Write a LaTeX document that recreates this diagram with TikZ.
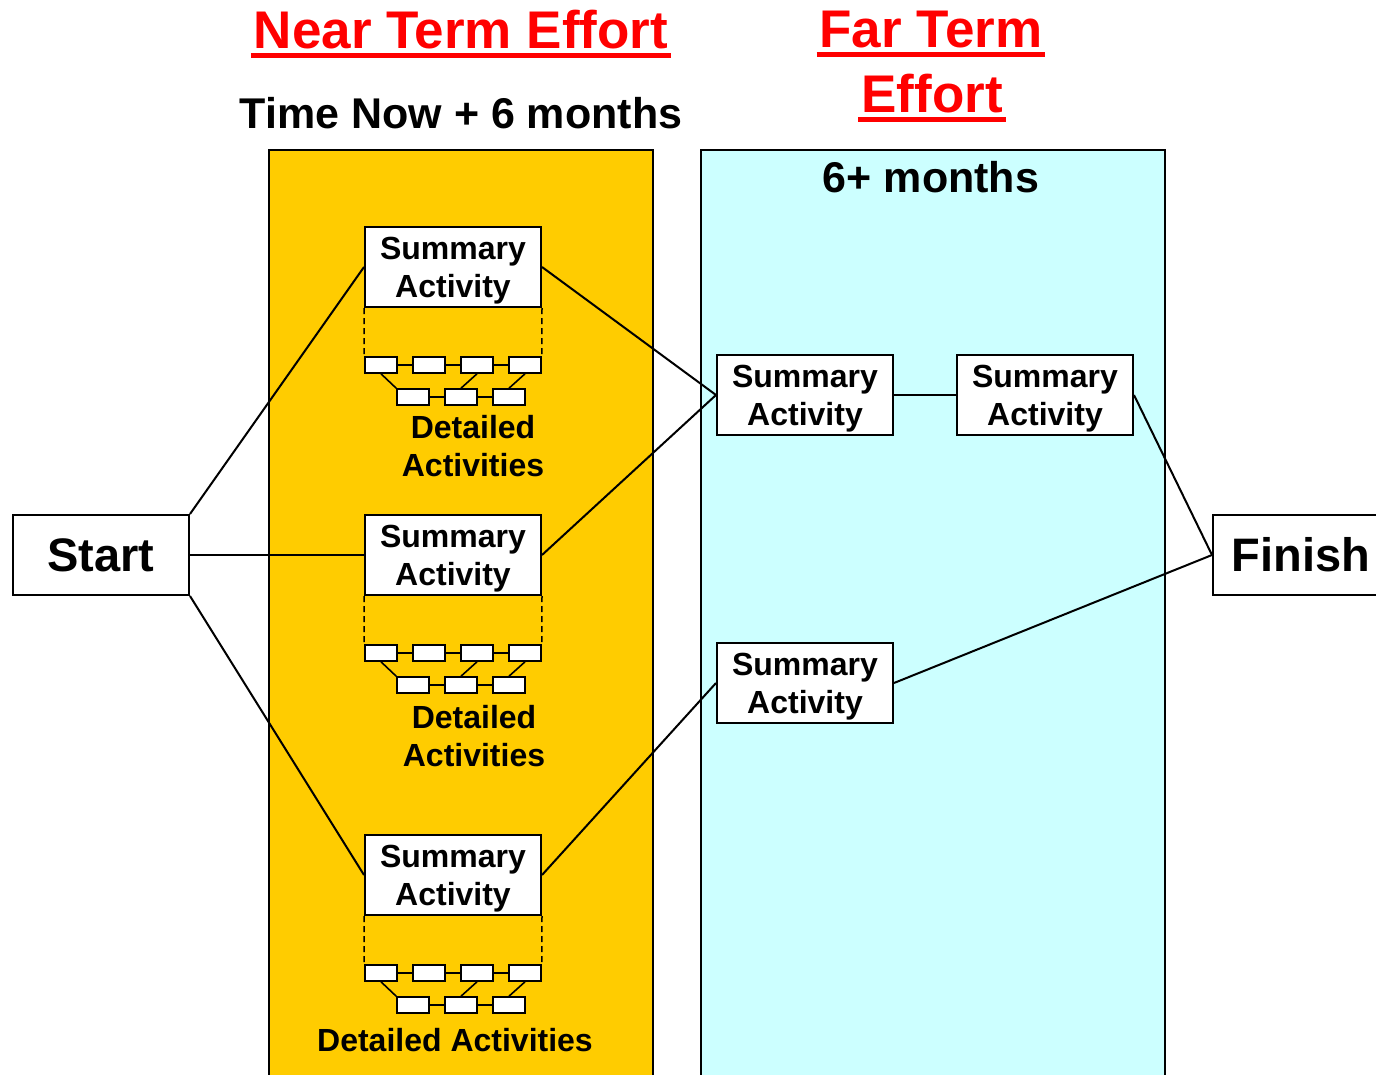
\documentclass[tikz,border=0pt]{standalone}
\usepackage{fontspec}
\setmainfont{Liberation Sans}
\usetikzlibrary{shadows}
\definecolor{nearfill}{RGB}{255,204,0}
\definecolor{farfill}{RGB}{204,255,255}
\definecolor{titlered}{RGB}{255,0,0}
% thick underline drawn in the current colour
\newcommand{\redul}[1]{\setbox0=\hbox{#1}\rlap{\kern-3pt\rule[-10pt]{\dimexpr\wd0+6pt\relax}{5pt}}\box0}
\tikzset{
  panel/.style={draw=black, line width=1.5pt},
  sumbox/.style={draw, fill=white, line width=2pt, minimum width=176pt,
    minimum height=80pt, inner sep=0pt, align=center, text depth=0pt,
    font=\fontsize{32}{38}\selectfont\bfseries},
  endbox/.style={draw, fill=white, line width=2pt, minimum width=176pt,
    minimum height=80pt, inner sep=0pt,
    font=\fontsize{47}{56}\selectfont\bfseries},
  minibox/.style={draw, fill=white, line width=1.6pt, minimum width=32pt,
    minimum height=16pt, inner sep=0pt,
    drop shadow={shadow xshift=1.2pt, shadow yshift=-1.2pt, fill=gray!50, opacity=1}},
  link/.style={line width=2pt},
  minilink/.style={line width=1.6pt},
  dashlink/.style={line width=1.5pt, dash pattern=on 6pt off 4pt},
  detlabel/.style={align=center, inner sep=0pt,
    font=\fontsize{32}{38.5}\selectfont\bfseries},
  title/.style={anchor=base, inner sep=0pt, text=titlered,
    font=\fontsize{53}{65}\selectfont\bfseries},
  subtitle/.style={anchor=base, inner sep=0pt,
    font=\fontsize{43}{50}\selectfont\bfseries},
  detailgrid/.pic={
    \foreach \i/\x in {1/16,2/64,3/112,4/160}
      \node[minibox] (-t\i) at (\x,8) {};
    \foreach \i/\x in {1/48,2/96,3/144}
      \node[minibox] (-b\i) at (\x,40) {};
    \draw[minilink] (-t1) -- (-t2) (-t2) -- (-t3) (-t3) -- (-t4)
      (-b1) -- (-b2) (-b2) -- (-b3)
      (-t1.south) -- (-b1.north west)
      (-t3.south) -- (-b2.north)
      (-t4.south) -- (-b3.north);
  }
}
\begin{document}
\begin{tikzpicture}[x=1pt, y=-1pt]
\useasboundingbox (0,0) rectangle (1376,1074);
\fill[white] (0,0) rectangle (1376,1074);

% the two planning windows
\fill[nearfill] (269,150) rectangle (653,1080);
\draw[panel] (269,1080) -- (269,150) -- (653,150) -- (653,1080);
\fill[farfill] (701,150) rectangle (1165,1080);
\draw[panel] (701,1080) -- (701,150) -- (1165,150) -- (1165,1080);

% headings
\node[title] (near) at (461,48) {\redul{Near Term Effort}};
\node[title] (farterm) at (931,47) {\redul{Far Term}};
\node[title] (fareffort) at (932,112) {\redul{Effort}};
\node[subtitle] (nearspan) at (461,128) {Time Now + 6 months};
\node[subtitle] (farspan) at (931,192) {6+ months};

% end points
\node[endbox] (start) at (101,555) {Start};
\node[endbox] (finish) at (1301,555) {Finish};

% near term summary activities
\node[sumbox] (s1) at (453,267) {Summary\\Activity};
\node[sumbox] (s2) at (453,555) {Summary\\Activity};
\node[sumbox] (s3) at (453,875) {Summary\\Activity};

% far term summary activities
\node[sumbox] (f1) at (805,395) {Summary\\Activity};
\node[sumbox] (f2) at (1045,395) {Summary\\Activity};
\node[sumbox] (f3) at (805,683) {Summary\\Activity};

% detail networks under each near term summary
\pic (g1) at (365,357) {detailgrid};
\pic (g2) at (365,645) {detailgrid};
\pic (g3) at (365,965) {detailgrid};

\foreach \s/\g in {s1/g1, s2/g2, s3/g3} {
  \draw[dashlink] (\s.south west) -- (\g-t1.north west);
  \draw[dashlink] (\s.south east) -- (\g-t4.north east);
}

\node[detlabel] (d1) at (473,446) {Detailed\\Activities};
\node[detlabel] (d2) at (474,736) {Detailed\\Activities};
\node[detlabel] (d3) at (455,1040) {Detailed Activities};

% logic links
\draw[link] (start.north east) -- (s1.west);
\draw[link] (start.east) -- (s2.west);
\draw[link] (start.south east) -- (s3.west);
\draw[link] (s1.east) -- (f1.west);
\draw[link] (s2.east) -- (f1.west);
\draw[link] (s3.east) -- (f3.west);
\draw[link] (f1.east) -- (f2.west);
\draw[link] (f2.east) -- (finish.west);
\draw[link] (f3.east) -- (finish.west);
\end{tikzpicture}
\end{document}
